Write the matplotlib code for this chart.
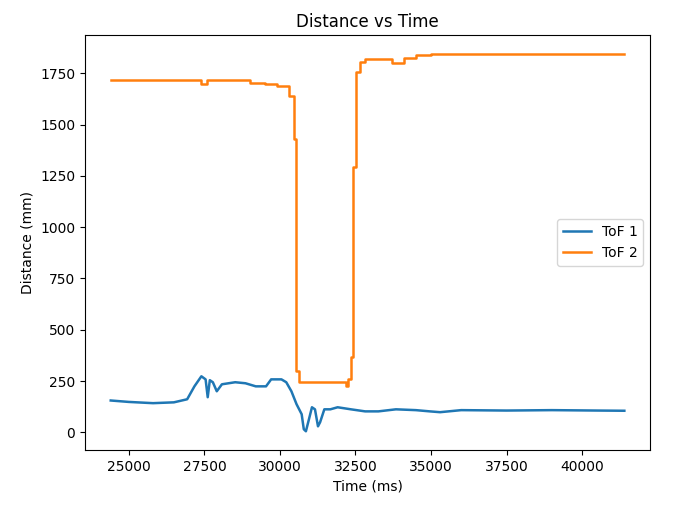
import matplotlib

matplotlib.use("Agg")
import matplotlib.pyplot as plt

# ToF 1 readings (time in ms, distance in mm)
tof1_t = [24400, 25000, 25800, 26490, 26930, 27170, 27400, 27540, 27610, 27680,
          27780, 27910, 28080, 28520, 28860, 29200, 29540, 29710, 30050, 30210,
          30380, 30550, 30720, 30790, 30860, 30960, 31060, 31160, 31260, 31330,
          31470, 31670, 31910, 32350, 32820, 33260, 33840, 34500, 34960, 35300,
          36000, 37500, 39000, 40500, 41400]
tof1_d = [155, 148, 142, 146, 161, 224, 273, 258, 171, 254,
          244, 200, 234, 244, 239, 224, 224, 258, 258, 244,
          200, 137, 88, 15, 5, 63, 122, 112, 29, 49,
          112, 112, 122, 112, 102, 102, 112, 108, 102, 98,
          108, 106, 108, 106, 105]

# ToF 2 readings (step-like sensor output)
tof2_t = [24400, 27300, 27400, 27600, 28800, 29000, 29500, 29900, 30317, 30452,
          30520, 30620, 32180, 32250, 32350, 32420, 32520, 32650, 32820, 33300,
          33700, 34100, 34516, 35000, 38000, 41400]
tof2_d = [1715, 1715, 1700, 1715, 1715, 1705, 1700, 1690, 1638, 1428,
          297, 244, 224, 258, 366, 1292, 1755, 1804, 1819, 1820,
          1800, 1825, 1840, 1845, 1845, 1842]

fig, ax = plt.subplots(figsize=(6.75, 5.21), dpi=100)
ax.plot(tof1_t, tof1_d, lw=1.8, label="ToF 1")
ax.step(tof2_t, tof2_d, where="post", lw=1.8, label="ToF 2")
ax.set_title("Distance vs Time")
ax.set_xlabel("Time (ms)")
ax.set_ylabel("Distance (mm)")
ax.legend(loc="center right")
fig.subplots_adjust(left=0.126, right=0.963, top=0.933, bottom=0.136)
fig.savefig("out.png", dpi=100)
